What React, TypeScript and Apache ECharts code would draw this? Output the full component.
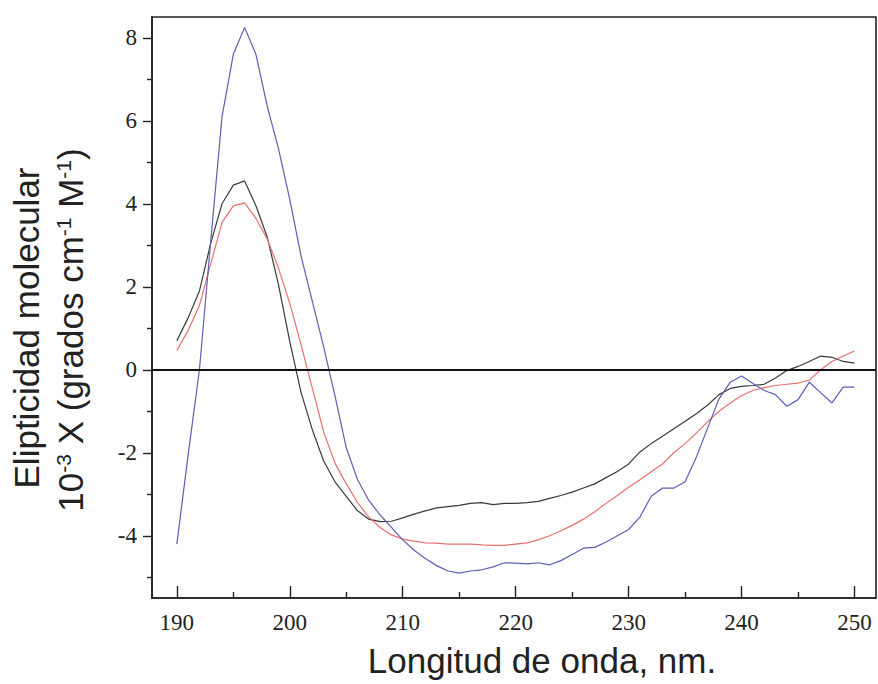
import React, { useEffect, useRef } from "react";
import * as echarts from "echarts";

const wavelength = [
  190, 191, 192, 193, 194, 195, 196, 197, 198, 199,
  200, 201, 202, 203, 204, 205, 206, 207, 208, 209,
  210, 211, 212, 213, 214, 215, 216, 217, 218, 219,
  220, 221, 222, 223, 224, 225, 226, 227, 228, 229,
  230, 231, 232, 233, 234, 235, 236, 237, 238, 239,
  240, 241, 242, 243, 244, 245, 246, 247, 248, 249,
  250,
];

const blackValues = [
  0.7, 1.25, 1.9, 3.05, 4.0, 4.45, 4.55, 3.95, 3.2, 2.05,
  0.68, -0.55, -1.45, -2.2, -2.7, -3.05, -3.4, -3.6, -3.66, -3.65,
  -3.57, -3.48, -3.4, -3.33, -3.3, -3.27, -3.22, -3.2, -3.25, -3.22,
  -3.22, -3.2, -3.17, -3.1, -3.03, -2.95, -2.85, -2.75, -2.6, -2.45,
  -2.27, -1.98, -1.78, -1.6, -1.42, -1.24, -1.06, -0.85, -0.6, -0.45,
  -0.4, -0.38, -0.35, -0.2, -0.02, 0.08, 0.2, 0.33, 0.3, 0.2,
  0.16,
];

const redValues = [
  0.46, 0.95, 1.55, 2.55, 3.55, 3.95, 4.02, 3.65, 3.15, 2.45,
  1.6, 0.6, -0.45, -1.5, -2.25, -2.75, -3.2, -3.55, -3.8, -3.98,
  -4.08, -4.13, -4.17, -4.18, -4.2, -4.2, -4.2, -4.22, -4.23, -4.23,
  -4.2, -4.17, -4.1, -4.0, -3.88, -3.75, -3.6, -3.42, -3.22, -3.03,
  -2.83, -2.65, -2.46, -2.27, -2.0, -1.78, -1.52, -1.25, -1.0, -0.8,
  -0.62, -0.5, -0.43, -0.38, -0.35, -0.32, -0.25, 0.0, 0.2, 0.33,
  0.45,
];

const blueValues = [
  -4.2, -2.05, 0.0, 3.1, 6.1, 7.6, 8.25, 7.6, 6.35, 5.33,
  4.1, 2.74, 1.64, 0.55, -0.63, -1.88, -2.65, -3.15, -3.5, -3.8,
  -4.1, -4.35, -4.55, -4.72, -4.85, -4.9, -4.85, -4.82, -4.75, -4.65,
  -4.66, -4.68, -4.65, -4.7, -4.6, -4.45, -4.3, -4.28, -4.15, -4.0,
  -3.85, -3.55, -3.05, -2.85, -2.85, -2.7, -2.1, -1.4, -0.7, -0.3,
  -0.15, -0.33, -0.5, -0.6, -0.88, -0.72, -0.3, -0.55, -0.8, -0.42,
  -0.42,
];

const xMajorTicks = [190, 200, 210, 220, 230, 240, 250];
const xMinorTicks = [195, 205, 215, 225, 235, 245];
const yMajorTicks = [-4, -2, 0, 2, 4, 6, 8];
const yMinorTicks = [-5, -3, -1, 1, 3, 5, 7];

const xTitle = "Longitud de onda, nm.";
const yTitleLine1 = "Elipticidad molecular";
const yTitleLine2 = "{b|10}{s|-3}{b| X (grados cm}{s|-1}{b| M}{s|-1}{b|)}";

const SERIF = "'Liberation Serif', 'DejaVu Serif', serif";
const SANS = "'Liberation Sans', Arial, sans-serif";

export default function App() {
  const ref = useRef<HTMLDivElement>(null);

  useEffect(() => {
    if (!ref.current) return;
    const chart = echarts.init(ref.current, null, { renderer: "svg" });
    const pairs = (vals: number[]) => wavelength.map((w, i) => [w, vals[i]]);
    const X_MIN = 187.8;
    const X_MAX = 251.9;
    const Y_MIN = -5.5;
    const Y_MAX = 8.5;

    const lineSeries = (name: string, vals: number[], color: string, extra: any = {}) => ({
      type: "line",
      name,
      data: pairs(vals),
      showSymbol: false,
      symbol: "none",
      smooth: false,
      lineStyle: { color, width: 1.2 },
      xAxisIndex: 0,
      yAxisIndex: 0,
      silent: true,
      ...extra,
    });

    chart.setOption({
      animation: false,
      backgroundColor: "#ffffff",
      grid: {
        left: 152,
        right: 2,
        top: 17,
        bottom: 86,
        show: true,
        borderColor: "#222",
        borderWidth: 1.6,
        backgroundColor: "transparent",
      },
      xAxis: [
        {
          type: "value",
          min: X_MIN,
          max: X_MAX,
          position: "bottom",
          splitLine: { show: false },
          axisLine: { show: true, onZero: false, lineStyle: { color: "#222", width: 1.6 } },
          axisTick: {
            show: true,
            inside: true,
            length: 12,
            customValues: xMajorTicks,
            lineStyle: { color: "#222", width: 1.4 },
          },
          axisLabel: {
            show: true,
            customValues: xMajorTicks,
            margin: 13,
            color: "#222",
            fontFamily: SERIF,
            fontSize: 23,
          },
        },
        {
          type: "value",
          min: X_MIN,
          max: X_MAX,
          position: "bottom",
          splitLine: { show: false },
          axisLine: { show: false, onZero: false },
          axisTick: {
            show: true,
            inside: true,
            length: 6,
            customValues: xMinorTicks,
            lineStyle: { color: "#222", width: 1.4 },
          },
          axisLabel: { show: false },
        },
      ],
      yAxis: [
        {
          type: "value",
          min: Y_MIN,
          max: Y_MAX,
          position: "left",
          splitLine: { show: false },
          axisLine: { show: true, onZero: false, lineStyle: { color: "#222", width: 1.6 } },
          axisTick: {
            show: true,
            inside: false,
            length: 9,
            customValues: yMajorTicks,
            lineStyle: { color: "#222", width: 1.4 },
          },
          axisLabel: {
            show: true,
            customValues: yMajorTicks,
            margin: 15,
            color: "#222",
            fontFamily: SERIF,
            fontSize: 23,
          },
        },
        {
          type: "value",
          min: Y_MIN,
          max: Y_MAX,
          position: "left",
          splitLine: { show: false },
          axisLine: { show: false, onZero: false },
          axisTick: {
            show: true,
            inside: false,
            length: 5,
            customValues: yMinorTicks,
            lineStyle: { color: "#222", width: 1.4 },
          },
          axisLabel: { show: false },
        },
      ],
      series: [
        lineSeries("black", blackValues, "#3a3a3a", {
          markLine: {
            silent: true,
            symbol: "none",
            label: { show: false },
            lineStyle: { color: "#111", width: 1.8, type: "solid" },
            data: [{ yAxis: 0 }],
          },
        }),
        lineSeries("red", redValues, "#e8706f"),
        lineSeries("blue", blueValues, "#5b5fb5"),
      ],
      graphic: [
        {
          type: "text",
          x: 542,
          y: 660,
          style: {
            text: xTitle,
            font: `35px ${SANS}`,
            fill: "#222",
            align: "center",
            verticalAlign: "middle",
          },
        },
        {
          type: "text",
          x: 26,
          y: 328,
          rotation: Math.PI / 2,
          style: {
            text: yTitleLine1,
            font: `35px ${SANS}`,
            fill: "#222",
            align: "center",
            verticalAlign: "middle",
          },
        },
        {
          type: "text",
          x: 70,
          y: 330,
          rotation: Math.PI / 2,
          style: {
            text: yTitleLine2,
            fill: "#222",
            align: "center",
            verticalAlign: "middle",
            rich: {
              b: { fontSize: 35, fontFamily: SANS, fill: "#222" },
              s: { fontSize: 21, fontFamily: SANS, fill: "#222", verticalAlign: "top" },
            },
          },
        },
      ],
    });

    return () => {
      chart.dispose();
    };
  }, []);

  return (
    <div
      ref={ref}
      style={{ position: "fixed", left: 0, top: 0, width: 878, height: 684, background: "#fff" }}
    />
  );
}
